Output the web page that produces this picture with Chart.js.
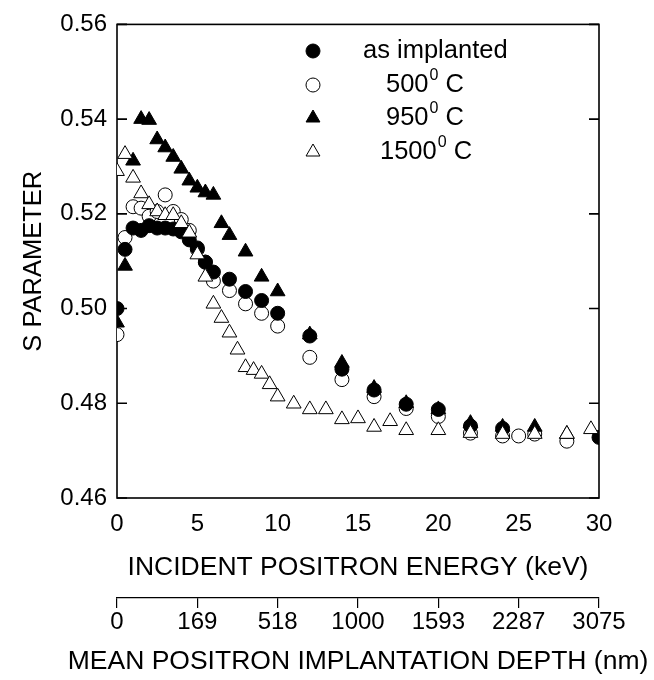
<!DOCTYPE html>
<html lang="en">
<head>
  <meta charset="UTF-8" />
  <title>S parameter vs positron energy</title>
  <script src="https://cdn.jsdelivr.net/npm/chart.js"></script>
  <style>
    body {
      margin: 0;
      padding: 0;
      background: #fff;
    }
    .contenedor {
      width: 654px;
      height: 680px;
    }
  </style>
</head>
<body>
  <div class="contenedor">
    <canvas id="grafico" width="654" height="680"></canvas>
  </div>

  <script>
    // as implanted (filled circles)
    const eImpl = [0, 0.5, 1, 1.5, 2, 2.5, 3, 3.5, 4, 4.5, 5, 5.5, 6, 7, 8, 9, 10, 12, 14, 16, 18, 20, 22, 24, 30];
    const sImpl = [0.500, 0.5125, 0.517, 0.5165, 0.5175, 0.517, 0.517, 0.5168, 0.5162, 0.5145, 0.5128, 0.5098, 0.5077, 0.5062, 0.5036, 0.5017, 0.4990, 0.4942, 0.4872, 0.4828, 0.4798, 0.4787, 0.4752, 0.4747, 0.4728];

    // 500 C (open circles)
    const e500 = [0, 0.5, 1, 1.5, 2, 2.5, 3, 3.5, 4, 4.5, 5, 5.5, 6, 7, 8, 9, 10, 12, 14, 16, 18, 20, 22, 24, 25, 26, 28];
    const s500 = [0.4945, 0.515, 0.5215, 0.5212, 0.5195, 0.5205, 0.524, 0.5205, 0.5188, 0.5165, 0.5125, 0.5098, 0.5058, 0.5038, 0.5010, 0.4990, 0.4963, 0.4897, 0.4850, 0.4814, 0.4789, 0.4772, 0.4737, 0.4731, 0.4731, 0.4735, 0.4720];

    // 950 C (filled triangles)
    const e950 = [0, 0.5, 1, 1.5, 2, 2.5, 3, 3.5, 4, 4.5, 5, 5.5, 6, 6.5, 7, 8, 9, 10, 12, 14, 16, 18, 20, 22, 24, 26, 28];
    const s950 = [0.497, 0.509, 0.5312, 0.5400, 0.5398, 0.5357, 0.534, 0.532, 0.5295, 0.527, 0.5255, 0.5245, 0.524, 0.518, 0.5155, 0.512, 0.5067, 0.5036, 0.4945, 0.4885, 0.4832, 0.4800, 0.4787, 0.4758, 0.4750, 0.4750, 0.4735];

    // 1500 C (open triangles)
    const e1500 = [0, 0.5, 1, 1.5, 2, 2.5, 3, 3.5, 4, 4.5, 5, 5.5, 6, 6.5, 7, 7.5, 8, 8.5, 9, 9.5, 10, 11, 12, 13, 14, 15, 16, 17, 18, 20, 22, 24, 26, 28, 29.5];
    const s1500 = [0.529, 0.5326, 0.5276, 0.5243, 0.522, 0.5205, 0.5197, 0.5197, 0.518, 0.516, 0.5114, 0.5067, 0.501, 0.498, 0.4949, 0.4913, 0.4876, 0.487, 0.4862, 0.484, 0.4814, 0.4799, 0.4787, 0.4787, 0.4766, 0.4768, 0.475, 0.4762, 0.4743, 0.4743, 0.4737, 0.4735, 0.4735, 0.4735, 0.4745];

    const energiaTicks = [0, 5, 10, 15, 20, 25, 30];
    const profundidadTicks = ['0', '169', '518', '1000', '1593', '2287', '3075'];

    const fuente = '"Liberation Sans", Arial, sans-serif';

    function puntos(xs, ys) {
      return xs.map((x, i) => ({ x: x, y: ys[i] }));
    }

    const marco = {
      id: 'marco',
      beforeDatasetsDraw(chart) {
        const { ctx, chartArea: a, scales: { y } } = chart;
        ctx.save();
        ctx.strokeStyle = '#000';
        ctx.lineWidth = 1.6;
        ctx.strokeRect(a.left, a.top, a.right - a.left, a.bottom - a.top);
        ctx.beginPath();
        y.ticks.forEach(t => {
          const py = y.getPixelForValue(t.value);
          ctx.moveTo(a.left, py);
          ctx.lineTo(a.left + 10, py);
          ctx.moveTo(a.right, py);
          ctx.lineTo(a.right - 10, py);
        });
        ctx.stroke();
        ctx.restore();
      }
    };

    // el título del eje secundario es más ancho que el área del gráfico,
    // así que se dibuja aparte para que Chart.js no lo comprima
    const tituloProfundidad = {
      id: 'tituloProfundidad',
      afterDraw(chart, args, opts) {
        const { ctx, scales: { x2 } } = chart;
        ctx.save();
        ctx.font = '26.5px ' + fuente;
        ctx.fillStyle = '#000';
        ctx.textAlign = 'center';
        ctx.textBaseline = 'middle';
        ctx.fillText(opts.texto, (x2.left + x2.right) / 2, x2.bottom - 18);
        ctx.restore();
      }
    };

    const leyenda = {
      id: 'leyenda',
      afterDatasetsDraw(chart, args, opts) {
        const ctx = chart.ctx;
        ctx.save();
        chart.data.datasets.forEach((ds, i) => {
          const yy = opts.filas[i];
          ctx.fillStyle = ds.backgroundColor;
          ctx.strokeStyle = ds.borderColor;
          ctx.lineWidth = 1;
          Chart.helpers.drawPoint(ctx, {
            pointStyle: ds.pointStyle,
            radius: ds.pointStyle === 'circle' ? 7 : 8,
            rotation: 0,
            borderWidth: 1
          }, opts.xMarca, yy);

          ctx.fillStyle = '#000';
          ctx.textBaseline = 'middle';
          ctx.textAlign = 'left';
          let x = opts.xTexto[i];
          const partes = ds.label.split('⁰');
          ctx.font = '25.5px ' + fuente;
          ctx.fillText(partes[0], x, yy);
          x += ctx.measureText(partes[0]).width;
          if (partes.length > 1) {
            ctx.font = '16px ' + fuente;
            ctx.fillText('0', x + 1, yy - 9);
            x += ctx.measureText('0').width + 1;
            ctx.font = '25.5px ' + fuente;
            ctx.fillText(partes[1], x, yy);
          }
        });
        ctx.restore();
      }
    };

    new Chart(document.getElementById('grafico').getContext('2d'), {
      type: 'scatter',
      data: {
        datasets: [
          {
            label: 'as implanted',
            data: puntos(eImpl, sImpl),
            pointStyle: 'circle',
            pointRadius: 7,
            backgroundColor: '#000',
            borderColor: '#000',
            borderWidth: 1,
            order: 2
          },
          {
            label: '500⁰ C',
            data: puntos(e500, s500),
            pointStyle: 'circle',
            pointRadius: 7,
            backgroundColor: '#fff',
            borderColor: '#000',
            borderWidth: 1,
            order: 3
          },
          {
            label: '950⁰ C',
            data: puntos(e950, s950),
            pointStyle: 'triangle',
            pointRadius: 8.5,
            backgroundColor: '#000',
            borderColor: '#000',
            borderWidth: 1,
            order: 1
          },
          {
            label: '1500⁰ C',
            data: puntos(e1500, s1500),
            pointStyle: 'triangle',
            pointRadius: 8.5,
            backgroundColor: '#fff',
            borderColor: '#000',
            borderWidth: 1,
            order: 0
          }
        ]
      },
      options: {
        responsive: false,
        animation: false,
        layout: {
          padding: { left: 0, top: 16, right: 55, bottom: 0 }
        },
        plugins: {
          legend: { display: false },
          tooltip: { enabled: false },
          leyenda: {
            xMarca: 313,
            xTexto: [363, 386, 386, 380],
            filas: [51, 85, 118, 152]
          },
          tituloProfundidad: {
            texto: 'MEAN POSITRON IMPLANTATION DEPTH (nm)'
          }
        },
        scales: {
          x: {
            type: 'linear',
            position: 'bottom',
            min: 0,
            max: 30,
            afterBuildTicks(scale) {
              scale.ticks = energiaTicks.map(v => ({ value: v }));
            },
            afterFit(scale) { scale.height = 100; },
            grid: { display: false, drawTicks: false },
            border: { display: false },
            ticks: {
              color: '#000',
              padding: 12,
              maxRotation: 0,
              font: { family: fuente, size: 24 }
            },
            title: {
              display: true,
              text: 'INCIDENT POSITRON ENERGY (keV)',
              color: '#000',
              padding: { top: 0, bottom: 14 },
              font: { family: fuente, size: 26.5 }
            }
          },
          x2: {
            type: 'linear',
            position: 'bottom',
            min: 0,
            max: 30,
            afterBuildTicks(scale) {
              scale.ticks = energiaTicks.map(v => ({ value: v }));
            },
            afterFit(scale) { scale.height = 82; },
            grid: {
              drawOnChartArea: false,
              drawTicks: true,
              tickLength: 10,
              color: '#000',
              lineWidth: 1.2
            },
            border: { display: true, color: '#000', width: 1.2 },
            ticks: {
              color: '#000',
              padding: 0,
              maxRotation: 0,
              font: { family: fuente, size: 24 },
              callback: (v, i) => profundidadTicks[i]
            },
            title: { display: false }
          },
          y: {
            type: 'linear',
            min: 0.46,
            max: 0.56,
            afterFit(scale) { scale.width = 117; },
            grid: { display: false, drawTicks: false },
            border: { display: false },
            ticks: {
              stepSize: 0.02,
              color: '#000',
              padding: 10,
              font: { family: fuente, size: 24 },
              callback: v => v.toFixed(2)
            },
            title: {
              display: true,
              text: 'S PARAMETER',
              color: '#000',
              padding: { top: 19, bottom: 0 },
              font: { family: fuente, size: 25.5 }
            }
          }
        }
      },
      plugins: [marco, leyenda, tituloProfundidad]
    });
  </script>
</body>
</html>
